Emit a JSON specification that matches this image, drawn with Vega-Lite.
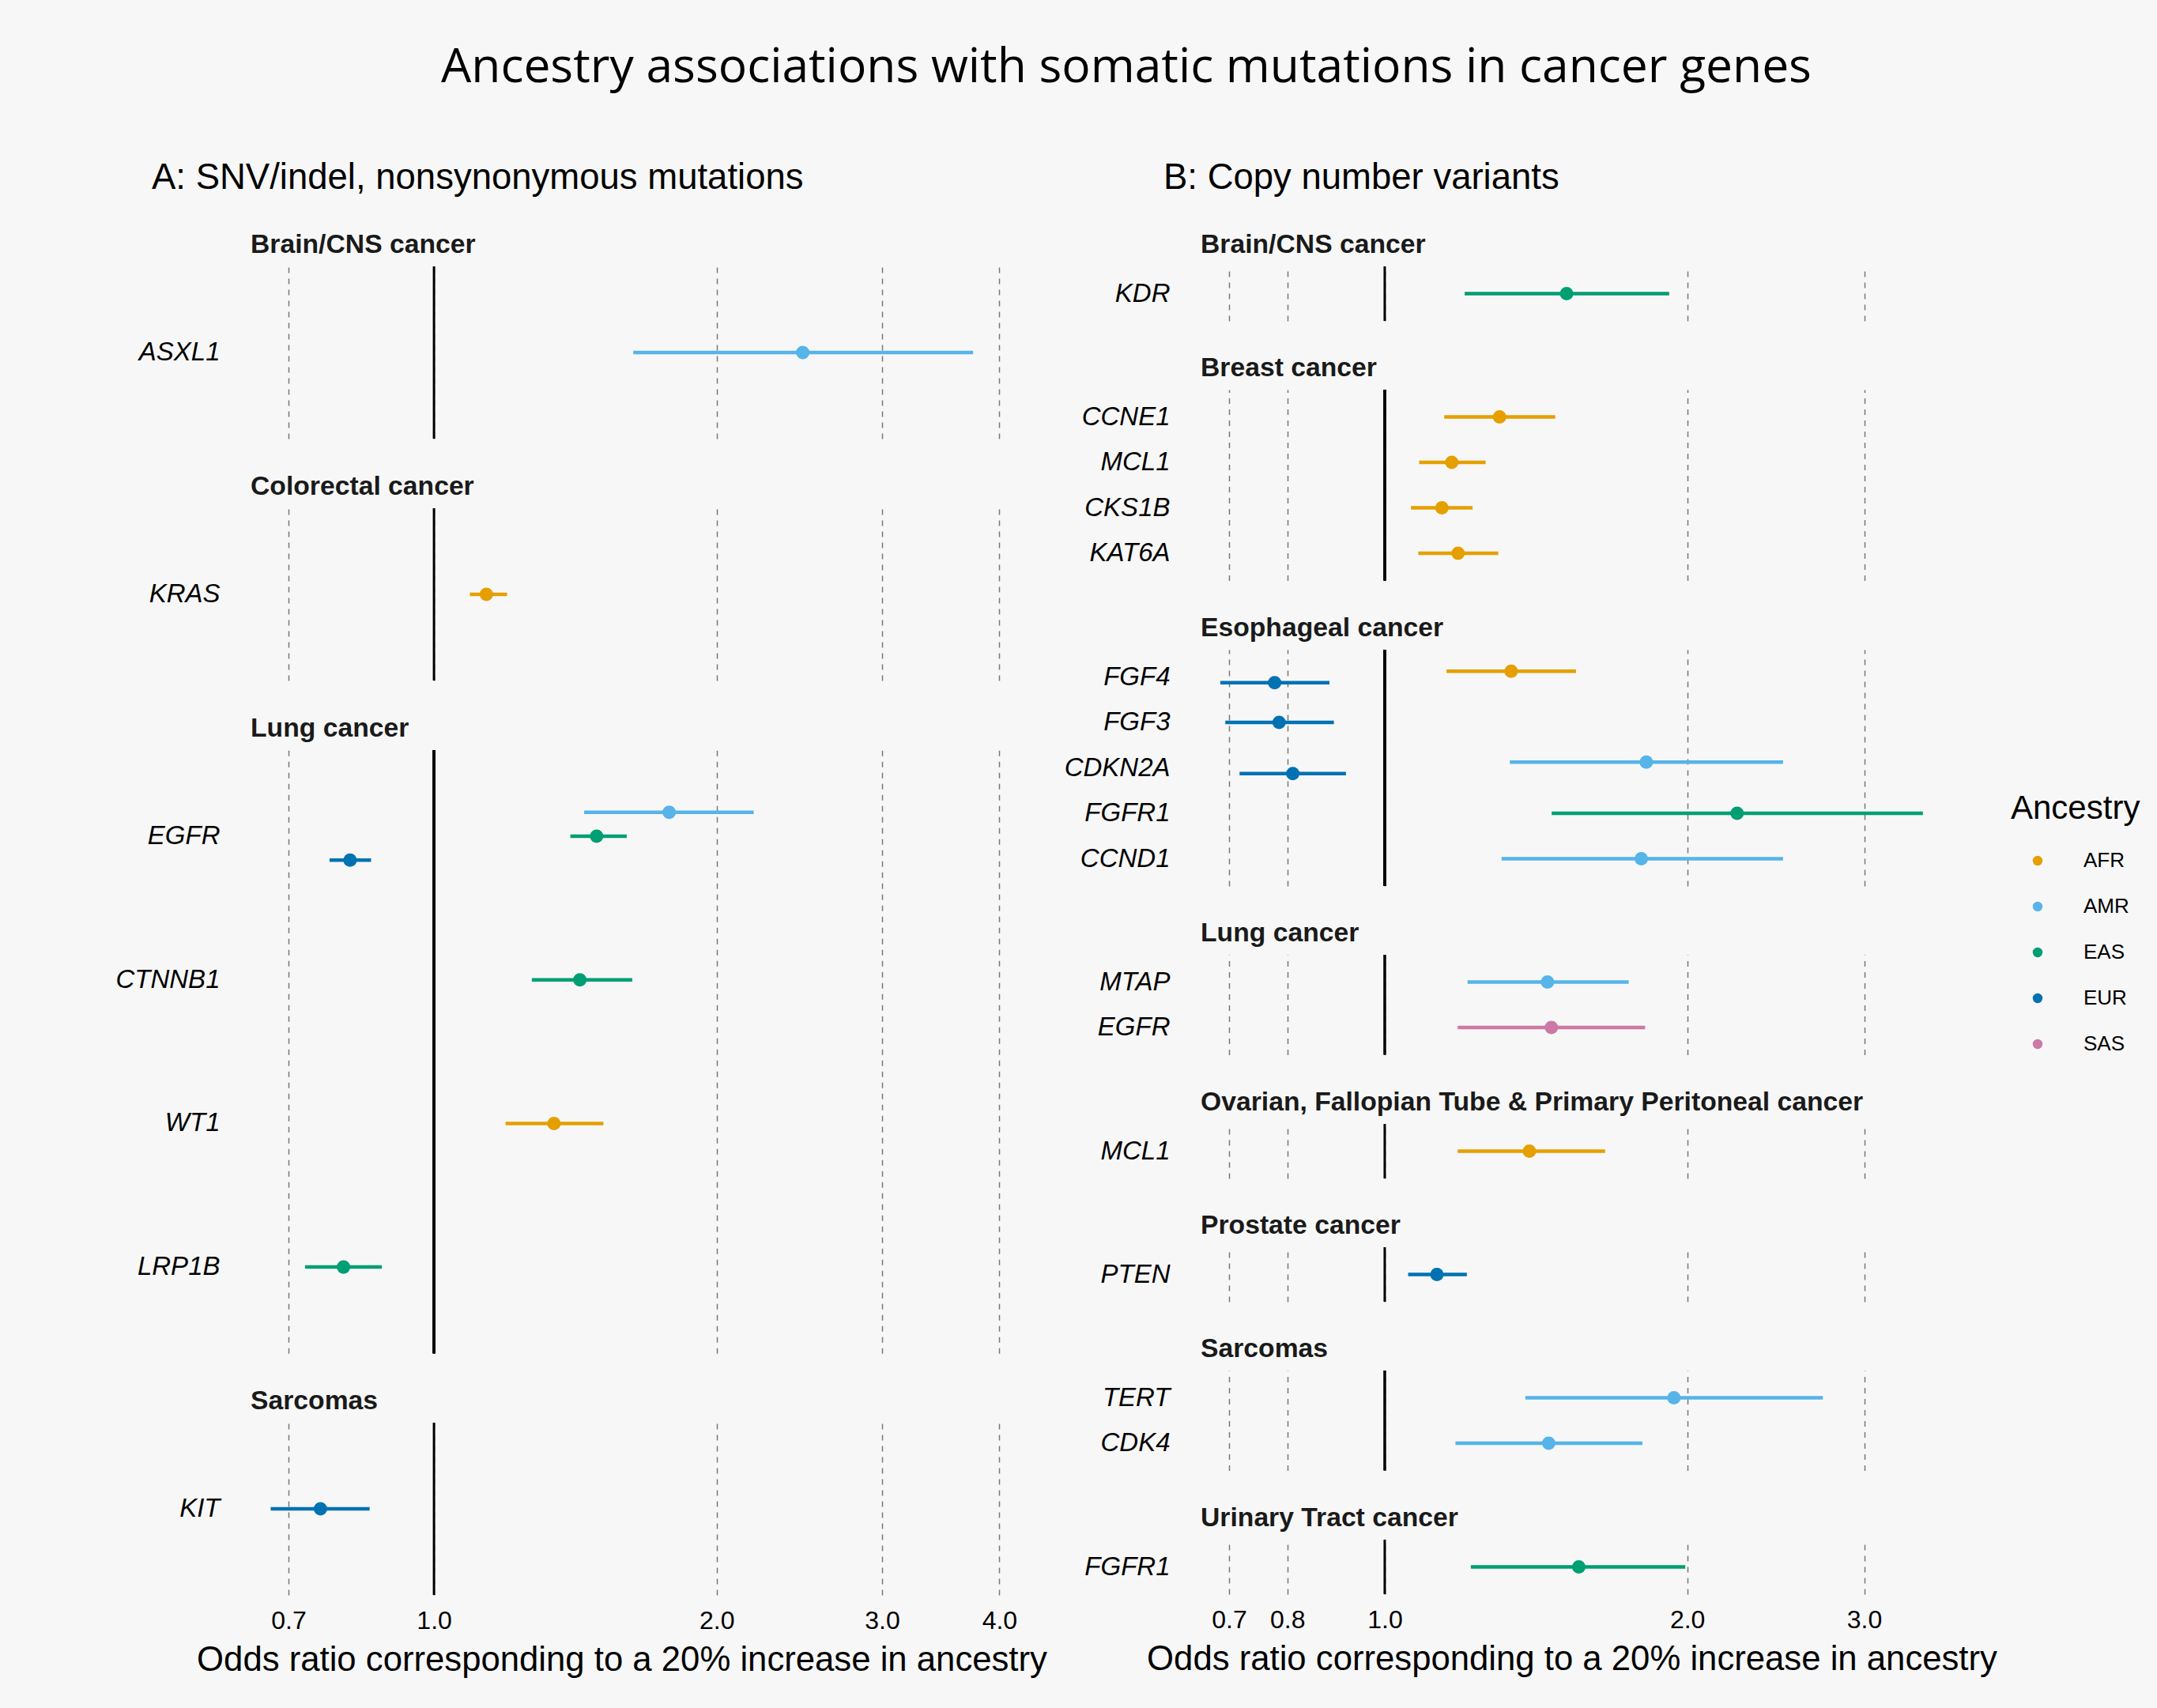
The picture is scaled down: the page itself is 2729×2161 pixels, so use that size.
{
  "$schema": "https://vega.github.io/schema/vega-lite/v6.json",
  "background": "#f7f7f7",
  "padding": {"left": 145, "top": 55, "right": 23, "bottom": 44},
  "title": {"text": "Ancestry associations with somatic mutations in cancer genes", "font": "Open Sans", "fontSize": 60.5, "fontWeight": "normal", "color": "black", "anchor": "middle", "frame": "bounds", "dx": -2, "offset": 87},
  "data": {"values": [
    {"panel": "A", "cancer": "Brain/CNS cancer", "gene": "ASXL1", "ancestry": "AMR", "or": 2.47, "lower": 1.63, "upper": 3.75},
    {"panel": "A", "cancer": "Colorectal cancer", "gene": "KRAS", "ancestry": "AFR", "or": 1.137, "lower": 1.092, "upper": 1.196},
    {"panel": "A", "cancer": "Lung cancer", "gene": "EGFR", "ancestry": "AMR", "or": 1.78, "lower": 1.445, "upper": 2.19},
    {"panel": "A", "cancer": "Lung cancer", "gene": "EGFR", "ancestry": "EAS", "or": 1.49, "lower": 1.397, "upper": 1.604},
    {"panel": "A", "cancer": "Lung cancer", "gene": "EGFR", "ancestry": "EUR", "or": 0.814, "lower": 0.774, "upper": 0.857},
    {"panel": "A", "cancer": "Lung cancer", "gene": "CTNNB1", "ancestry": "EAS", "or": 1.43, "lower": 1.271, "upper": 1.626},
    {"panel": "A", "cancer": "Lung cancer", "gene": "WT1", "ancestry": "AFR", "or": 1.342, "lower": 1.192, "upper": 1.515},
    {"panel": "A", "cancer": "Lung cancer", "gene": "LRP1B", "ancestry": "EAS", "or": 0.801, "lower": 0.729, "upper": 0.88},
    {"panel": "A", "cancer": "Sarcomas", "gene": "KIT", "ancestry": "EUR", "or": 0.757, "lower": 0.67, "upper": 0.854},
    {"panel": "B", "cancer": "Brain/CNS cancer", "gene": "KDR", "ancestry": "EAS", "or": 1.517, "lower": 1.201, "upper": 1.919},
    {"panel": "B", "cancer": "Breast cancer", "gene": "CCNE1", "ancestry": "AFR", "or": 1.301, "lower": 1.146, "upper": 1.478},
    {"panel": "B", "cancer": "Breast cancer", "gene": "MCL1", "ancestry": "AFR", "or": 1.166, "lower": 1.082, "upper": 1.26},
    {"panel": "B", "cancer": "Breast cancer", "gene": "CKS1B", "ancestry": "AFR", "or": 1.14, "lower": 1.062, "upper": 1.223},
    {"panel": "B", "cancer": "Breast cancer", "gene": "KAT6A", "ancestry": "AFR", "or": 1.183, "lower": 1.08, "upper": 1.297},
    {"panel": "B", "cancer": "Esophageal cancer", "gene": "FGF4", "ancestry": "AFR", "or": 1.336, "lower": 1.152, "upper": 1.55},
    {"panel": "B", "cancer": "Esophageal cancer", "gene": "FGF4", "ancestry": "EUR", "or": 0.777, "lower": 0.686, "upper": 0.881},
    {"panel": "B", "cancer": "Esophageal cancer", "gene": "FGF3", "ancestry": "EUR", "or": 0.785, "lower": 0.694, "upper": 0.89},
    {"panel": "B", "cancer": "Esophageal cancer", "gene": "CDKN2A", "ancestry": "AMR", "or": 1.821, "lower": 1.332, "upper": 2.491},
    {"panel": "B", "cancer": "Esophageal cancer", "gene": "CDKN2A", "ancestry": "EUR", "or": 0.81, "lower": 0.717, "upper": 0.915},
    {"panel": "B", "cancer": "Esophageal cancer", "gene": "FGFR1", "ancestry": "EAS", "or": 2.242, "lower": 1.466, "upper": 3.432},
    {"panel": "B", "cancer": "Esophageal cancer", "gene": "CCND1", "ancestry": "AMR", "or": 1.8, "lower": 1.307, "upper": 2.491},
    {"panel": "B", "cancer": "Lung cancer", "gene": "MTAP", "ancestry": "AMR", "or": 1.452, "lower": 1.209, "upper": 1.749},
    {"panel": "B", "cancer": "Lung cancer", "gene": "EGFR", "ancestry": "SAS", "or": 1.465, "lower": 1.182, "upper": 1.816},
    {"panel": "B", "cancer": "Ovarian, Fallopian Tube & Primary Peritoneal cancer", "gene": "MCL1", "ancestry": "AFR", "or": 1.393, "lower": 1.182, "upper": 1.657},
    {"panel": "B", "cancer": "Prostate cancer", "gene": "PTEN", "ancestry": "EUR", "or": 1.127, "lower": 1.055, "upper": 1.207},
    {"panel": "B", "cancer": "Sarcomas", "gene": "TERT", "ancestry": "AMR", "or": 1.94, "lower": 1.38, "upper": 2.729},
    {"panel": "B", "cancer": "Sarcomas", "gene": "CDK4", "ancestry": "AMR", "or": 1.456, "lower": 1.176, "upper": 1.805},
    {"panel": "B", "cancer": "Urinary Tract cancer", "gene": "FGFR1", "ancestry": "EAS", "or": 1.56, "lower": 1.218, "upper": 1.991}
  ]},
  "transform": [
    {"window": [{"op": "row_number", "as": "rk"}], "groupby": ["panel", "cancer", "gene"], "sort": [{"field": "ancestry", "order": "ascending"}]},
    {"joinaggregate": [{"op": "count", "as": "n"}], "groupby": ["panel", "cancer", "gene"]},
    {"calculate": "(datum.rk - (datum.n + 1) / 2) * 0.5 / datum.n", "as": "dodge"}
  ],
  "spacing": 21,
  "resolve": {"scale": {"x": "independent", "y": "independent", "yOffset": "independent", "color": "shared", "stroke": "shared"}, "legend": {"color": "shared"}},
  "hconcat": [
    {
      "title": {"text": "A: SNV/indel, nonsynonymous mutations", "fontSize": 45.5, "fontWeight": "normal", "color": "black", "dx": -106, "offset": 44},
      "spacing": 87,
      "bounds": "flush",
      "vconcat": [
        {
          "title": "Brain/CNS cancer",
          "transform": [{"filter": "datum.panel === 'A' && datum.cancer === 'Brain/CNS cancer'"}],
          "width": 977, "height": {"step": 181.7},
          "layer": [
            {"mark": {"type": "rule", "color": "black", "strokeWidth": 3}, "encoding": {"x": {"datum": 1, "type": "quantitative", "scale": {"type": "log", "domain": [0.6147, 4.083], "nice": false}, "axis": {"labels": false, "ticks": false, "domain": false, "grid": true, "title": null, "values": [0.7, 1, 2, 3, 4]}}}},
            {"mark": {"type": "rule", "strokeWidth": 4.5}, "encoding": {
              "x": {"field": "lower", "type": "quantitative", "scale": {"type": "log", "domain": [0.6147, 4.083], "nice": false}, "axis": {"labels": false, "ticks": false, "domain": false, "grid": true, "title": null, "values": [0.7, 1, 2, 3, 4]}},
              "x2": {"field": "upper"},
              "y": {"field": "gene", "type": "nominal", "sort": ["ASXL1"], "scale": {"paddingInner": 0, "paddingOuter": 0.1}, "axis": {"title": null}},
              "yOffset": {"field": "dodge", "type": "quantitative", "scale": {"domain": [-0.5, 0.5], "range": [0, 181.7]}},
              "stroke": {"field": "ancestry", "type": "nominal", "scale": {"domain": ["SAS", "EUR", "EAS", "AMR", "AFR"], "range": ["#CC79A7", "#0072B2", "#009E73", "#56B4E9", "#E69F00"]}, "legend": null}}},
            {"mark": {"type": "point", "filled": true, "opacity": 1, "size": 290}, "encoding": {
              "x": {"field": "or", "type": "quantitative", "scale": {"type": "log", "domain": [0.6147, 4.083], "nice": false}, "axis": {"labels": false, "ticks": false, "domain": false, "grid": true, "title": null, "values": [0.7, 1, 2, 3, 4]}},
              "y": {"field": "gene", "type": "nominal", "sort": ["ASXL1"], "scale": {"paddingInner": 0, "paddingOuter": 0.1}, "axis": {"title": null}},
              "yOffset": {"field": "dodge", "type": "quantitative", "scale": {"domain": [-0.5, 0.5], "range": [0, 181.7]}},
              "color": {"field": "ancestry", "type": "nominal", "title": "Ancestry", "scale": {"domain": ["AFR", "AMR", "EAS", "EUR", "SAS"], "range": ["#E69F00", "#56B4E9", "#009E73", "#0072B2", "#CC79A7"]}}}}
          ]
        },
        {
          "title": "Colorectal cancer",
          "transform": [{"filter": "datum.panel === 'A' && datum.cancer === 'Colorectal cancer'"}],
          "width": 977, "height": {"step": 181.7},
          "layer": [
            {"mark": {"type": "rule", "color": "black", "strokeWidth": 3}, "encoding": {"x": {"datum": 1, "type": "quantitative", "scale": {"type": "log", "domain": [0.6147, 4.083], "nice": false}, "axis": {"labels": false, "ticks": false, "domain": false, "grid": true, "title": null, "values": [0.7, 1, 2, 3, 4]}}}},
            {"mark": {"type": "rule", "strokeWidth": 4.5}, "encoding": {
              "x": {"field": "lower", "type": "quantitative", "scale": {"type": "log", "domain": [0.6147, 4.083], "nice": false}, "axis": {"labels": false, "ticks": false, "domain": false, "grid": true, "title": null, "values": [0.7, 1, 2, 3, 4]}},
              "x2": {"field": "upper"},
              "y": {"field": "gene", "type": "nominal", "sort": ["KRAS"], "scale": {"paddingInner": 0, "paddingOuter": 0.1}, "axis": {"title": null}},
              "yOffset": {"field": "dodge", "type": "quantitative", "scale": {"domain": [-0.5, 0.5], "range": [0, 181.7]}},
              "stroke": {"field": "ancestry", "type": "nominal", "scale": {"domain": ["SAS", "EUR", "EAS", "AMR", "AFR"], "range": ["#CC79A7", "#0072B2", "#009E73", "#56B4E9", "#E69F00"]}, "legend": null}}},
            {"mark": {"type": "point", "filled": true, "opacity": 1, "size": 290}, "encoding": {
              "x": {"field": "or", "type": "quantitative", "scale": {"type": "log", "domain": [0.6147, 4.083], "nice": false}, "axis": {"labels": false, "ticks": false, "domain": false, "grid": true, "title": null, "values": [0.7, 1, 2, 3, 4]}},
              "y": {"field": "gene", "type": "nominal", "sort": ["KRAS"], "scale": {"paddingInner": 0, "paddingOuter": 0.1}, "axis": {"title": null}},
              "yOffset": {"field": "dodge", "type": "quantitative", "scale": {"domain": [-0.5, 0.5], "range": [0, 181.7]}},
              "color": {"field": "ancestry", "type": "nominal", "title": "Ancestry", "scale": {"domain": ["AFR", "AMR", "EAS", "EUR", "SAS"], "range": ["#E69F00", "#56B4E9", "#009E73", "#0072B2", "#CC79A7"]}}}}
          ]
        },
        {
          "title": "Lung cancer",
          "transform": [{"filter": "datum.panel === 'A' && datum.cancer === 'Lung cancer'"}],
          "width": 977, "height": {"step": 181.7},
          "layer": [
            {"mark": {"type": "rule", "color": "black", "strokeWidth": 3}, "encoding": {"x": {"datum": 1, "type": "quantitative", "scale": {"type": "log", "domain": [0.6147, 4.083], "nice": false}, "axis": {"labels": false, "ticks": false, "domain": false, "grid": true, "title": null, "values": [0.7, 1, 2, 3, 4]}}}},
            {"mark": {"type": "rule", "strokeWidth": 4.5}, "encoding": {
              "x": {"field": "lower", "type": "quantitative", "scale": {"type": "log", "domain": [0.6147, 4.083], "nice": false}, "axis": {"labels": false, "ticks": false, "domain": false, "grid": true, "title": null, "values": [0.7, 1, 2, 3, 4]}},
              "x2": {"field": "upper"},
              "y": {"field": "gene", "type": "nominal", "sort": ["EGFR", "CTNNB1", "WT1", "LRP1B"], "scale": {"paddingInner": 0, "paddingOuter": 0.1}, "axis": {"title": null}},
              "yOffset": {"field": "dodge", "type": "quantitative", "scale": {"domain": [-0.5, 0.5], "range": [0, 181.7]}},
              "stroke": {"field": "ancestry", "type": "nominal", "scale": {"domain": ["SAS", "EUR", "EAS", "AMR", "AFR"], "range": ["#CC79A7", "#0072B2", "#009E73", "#56B4E9", "#E69F00"]}, "legend": null}}},
            {"mark": {"type": "point", "filled": true, "opacity": 1, "size": 290}, "encoding": {
              "x": {"field": "or", "type": "quantitative", "scale": {"type": "log", "domain": [0.6147, 4.083], "nice": false}, "axis": {"labels": false, "ticks": false, "domain": false, "grid": true, "title": null, "values": [0.7, 1, 2, 3, 4]}},
              "y": {"field": "gene", "type": "nominal", "sort": ["EGFR", "CTNNB1", "WT1", "LRP1B"], "scale": {"paddingInner": 0, "paddingOuter": 0.1}, "axis": {"title": null}},
              "yOffset": {"field": "dodge", "type": "quantitative", "scale": {"domain": [-0.5, 0.5], "range": [0, 181.7]}},
              "color": {"field": "ancestry", "type": "nominal", "title": "Ancestry", "scale": {"domain": ["AFR", "AMR", "EAS", "EUR", "SAS"], "range": ["#E69F00", "#56B4E9", "#009E73", "#0072B2", "#CC79A7"]}}}}
          ]
        },
        {
          "title": "Sarcomas",
          "transform": [{"filter": "datum.panel === 'A' && datum.cancer === 'Sarcomas'"}],
          "width": 977, "height": {"step": 181.7},
          "layer": [
            {"mark": {"type": "rule", "color": "black", "strokeWidth": 3}, "encoding": {"x": {"datum": 1, "type": "quantitative", "scale": {"type": "log", "domain": [0.6147, 4.083], "nice": false}, "axis": {"labels": true, "ticks": false, "tickSize": 0, "domain": false, "grid": true, "values": [0.7, 1, 2, 3, 4], "format": ".1f", "title": "Odds ratio corresponding to a 20% increase in ancestry"}}}},
            {"mark": {"type": "rule", "strokeWidth": 4.5}, "encoding": {
              "x": {"field": "lower", "type": "quantitative", "scale": {"type": "log", "domain": [0.6147, 4.083], "nice": false}, "axis": {"labels": true, "ticks": false, "tickSize": 0, "domain": false, "grid": true, "values": [0.7, 1, 2, 3, 4], "format": ".1f", "title": "Odds ratio corresponding to a 20% increase in ancestry"}},
              "x2": {"field": "upper"},
              "y": {"field": "gene", "type": "nominal", "sort": ["KIT"], "scale": {"paddingInner": 0, "paddingOuter": 0.1}, "axis": {"title": null}},
              "yOffset": {"field": "dodge", "type": "quantitative", "scale": {"domain": [-0.5, 0.5], "range": [0, 181.7]}},
              "stroke": {"field": "ancestry", "type": "nominal", "scale": {"domain": ["SAS", "EUR", "EAS", "AMR", "AFR"], "range": ["#CC79A7", "#0072B2", "#009E73", "#56B4E9", "#E69F00"]}, "legend": null}}},
            {"mark": {"type": "point", "filled": true, "opacity": 1, "size": 290}, "encoding": {
              "x": {"field": "or", "type": "quantitative", "scale": {"type": "log", "domain": [0.6147, 4.083], "nice": false}, "axis": {"labels": true, "ticks": false, "tickSize": 0, "domain": false, "grid": true, "values": [0.7, 1, 2, 3, 4], "format": ".1f", "title": "Odds ratio corresponding to a 20% increase in ancestry"}},
              "y": {"field": "gene", "type": "nominal", "sort": ["KIT"], "scale": {"paddingInner": 0, "paddingOuter": 0.1}, "axis": {"title": null}},
              "yOffset": {"field": "dodge", "type": "quantitative", "scale": {"domain": [-0.5, 0.5], "range": [0, 181.7]}},
              "color": {"field": "ancestry", "type": "nominal", "title": "Ancestry", "scale": {"domain": ["AFR", "AMR", "EAS", "EUR", "SAS"], "range": ["#E69F00", "#56B4E9", "#009E73", "#0072B2", "#CC79A7"]}}}}
          ]
        }
      ]
    },
    {
      "title": {"text": "B: Copy number variants", "fontSize": 45.5, "fontWeight": "normal", "color": "black", "dx": -28, "offset": 44},
      "spacing": 87,
      "bounds": "flush",
      "vconcat": [
        {
          "title": "Brain/CNS cancer",
          "transform": [{"filter": "datum.panel === 'B' && datum.cancer === 'Brain/CNS cancer'"}],
          "width": 977, "height": {"step": 57.5},
          "layer": [
            {"mark": {"type": "rule", "color": "black", "strokeWidth": 3}, "encoding": {"x": {"datum": 1, "type": "quantitative", "scale": {"type": "log", "domain": [0.6336, 3.718], "nice": false}, "axis": {"labels": false, "ticks": false, "domain": false, "grid": true, "title": null, "values": [0.7, 0.8, 1, 2, 3]}}}},
            {"mark": {"type": "rule", "strokeWidth": 4.5}, "encoding": {
              "x": {"field": "lower", "type": "quantitative", "scale": {"type": "log", "domain": [0.6336, 3.718], "nice": false}, "axis": {"labels": false, "ticks": false, "domain": false, "grid": true, "title": null, "values": [0.7, 0.8, 1, 2, 3]}},
              "x2": {"field": "upper"},
              "y": {"field": "gene", "type": "nominal", "sort": ["KDR"], "scale": {"paddingInner": 0, "paddingOuter": 0.1}, "axis": {"title": null}},
              "yOffset": {"field": "dodge", "type": "quantitative", "scale": {"domain": [-0.5, 0.5], "range": [0, 57.5]}},
              "stroke": {"field": "ancestry", "type": "nominal", "scale": {"domain": ["SAS", "EUR", "EAS", "AMR", "AFR"], "range": ["#CC79A7", "#0072B2", "#009E73", "#56B4E9", "#E69F00"]}, "legend": null}}},
            {"mark": {"type": "point", "filled": true, "opacity": 1, "size": 290}, "encoding": {
              "x": {"field": "or", "type": "quantitative", "scale": {"type": "log", "domain": [0.6336, 3.718], "nice": false}, "axis": {"labels": false, "ticks": false, "domain": false, "grid": true, "title": null, "values": [0.7, 0.8, 1, 2, 3]}},
              "y": {"field": "gene", "type": "nominal", "sort": ["KDR"], "scale": {"paddingInner": 0, "paddingOuter": 0.1}, "axis": {"title": null}},
              "yOffset": {"field": "dodge", "type": "quantitative", "scale": {"domain": [-0.5, 0.5], "range": [0, 57.5]}},
              "color": {"field": "ancestry", "type": "nominal", "title": "Ancestry", "scale": {"domain": ["AFR", "AMR", "EAS", "EUR", "SAS"], "range": ["#E69F00", "#56B4E9", "#009E73", "#0072B2", "#CC79A7"]}}}}
          ]
        },
        {
          "title": "Breast cancer",
          "transform": [{"filter": "datum.panel === 'B' && datum.cancer === 'Breast cancer'"}],
          "width": 977, "height": {"step": 57.5},
          "layer": [
            {"mark": {"type": "rule", "color": "black", "strokeWidth": 3}, "encoding": {"x": {"datum": 1, "type": "quantitative", "scale": {"type": "log", "domain": [0.6336, 3.718], "nice": false}, "axis": {"labels": false, "ticks": false, "domain": false, "grid": true, "title": null, "values": [0.7, 0.8, 1, 2, 3]}}}},
            {"mark": {"type": "rule", "strokeWidth": 4.5}, "encoding": {
              "x": {"field": "lower", "type": "quantitative", "scale": {"type": "log", "domain": [0.6336, 3.718], "nice": false}, "axis": {"labels": false, "ticks": false, "domain": false, "grid": true, "title": null, "values": [0.7, 0.8, 1, 2, 3]}},
              "x2": {"field": "upper"},
              "y": {"field": "gene", "type": "nominal", "sort": ["CCNE1", "MCL1", "CKS1B", "KAT6A"], "scale": {"paddingInner": 0, "paddingOuter": 0.1}, "axis": {"title": null}},
              "yOffset": {"field": "dodge", "type": "quantitative", "scale": {"domain": [-0.5, 0.5], "range": [0, 57.5]}},
              "stroke": {"field": "ancestry", "type": "nominal", "scale": {"domain": ["SAS", "EUR", "EAS", "AMR", "AFR"], "range": ["#CC79A7", "#0072B2", "#009E73", "#56B4E9", "#E69F00"]}, "legend": null}}},
            {"mark": {"type": "point", "filled": true, "opacity": 1, "size": 290}, "encoding": {
              "x": {"field": "or", "type": "quantitative", "scale": {"type": "log", "domain": [0.6336, 3.718], "nice": false}, "axis": {"labels": false, "ticks": false, "domain": false, "grid": true, "title": null, "values": [0.7, 0.8, 1, 2, 3]}},
              "y": {"field": "gene", "type": "nominal", "sort": ["CCNE1", "MCL1", "CKS1B", "KAT6A"], "scale": {"paddingInner": 0, "paddingOuter": 0.1}, "axis": {"title": null}},
              "yOffset": {"field": "dodge", "type": "quantitative", "scale": {"domain": [-0.5, 0.5], "range": [0, 57.5]}},
              "color": {"field": "ancestry", "type": "nominal", "title": "Ancestry", "scale": {"domain": ["AFR", "AMR", "EAS", "EUR", "SAS"], "range": ["#E69F00", "#56B4E9", "#009E73", "#0072B2", "#CC79A7"]}}}}
          ]
        },
        {
          "title": "Esophageal cancer",
          "transform": [{"filter": "datum.panel === 'B' && datum.cancer === 'Esophageal cancer'"}],
          "width": 977, "height": {"step": 57.5},
          "layer": [
            {"mark": {"type": "rule", "color": "black", "strokeWidth": 3}, "encoding": {"x": {"datum": 1, "type": "quantitative", "scale": {"type": "log", "domain": [0.6336, 3.718], "nice": false}, "axis": {"labels": false, "ticks": false, "domain": false, "grid": true, "title": null, "values": [0.7, 0.8, 1, 2, 3]}}}},
            {"mark": {"type": "rule", "strokeWidth": 4.5}, "encoding": {
              "x": {"field": "lower", "type": "quantitative", "scale": {"type": "log", "domain": [0.6336, 3.718], "nice": false}, "axis": {"labels": false, "ticks": false, "domain": false, "grid": true, "title": null, "values": [0.7, 0.8, 1, 2, 3]}},
              "x2": {"field": "upper"},
              "y": {"field": "gene", "type": "nominal", "sort": ["FGF4", "FGF3", "CDKN2A", "FGFR1", "CCND1"], "scale": {"paddingInner": 0, "paddingOuter": 0.1}, "axis": {"title": null}},
              "yOffset": {"field": "dodge", "type": "quantitative", "scale": {"domain": [-0.5, 0.5], "range": [0, 57.5]}},
              "stroke": {"field": "ancestry", "type": "nominal", "scale": {"domain": ["SAS", "EUR", "EAS", "AMR", "AFR"], "range": ["#CC79A7", "#0072B2", "#009E73", "#56B4E9", "#E69F00"]}, "legend": null}}},
            {"mark": {"type": "point", "filled": true, "opacity": 1, "size": 290}, "encoding": {
              "x": {"field": "or", "type": "quantitative", "scale": {"type": "log", "domain": [0.6336, 3.718], "nice": false}, "axis": {"labels": false, "ticks": false, "domain": false, "grid": true, "title": null, "values": [0.7, 0.8, 1, 2, 3]}},
              "y": {"field": "gene", "type": "nominal", "sort": ["FGF4", "FGF3", "CDKN2A", "FGFR1", "CCND1"], "scale": {"paddingInner": 0, "paddingOuter": 0.1}, "axis": {"title": null}},
              "yOffset": {"field": "dodge", "type": "quantitative", "scale": {"domain": [-0.5, 0.5], "range": [0, 57.5]}},
              "color": {"field": "ancestry", "type": "nominal", "title": "Ancestry", "scale": {"domain": ["AFR", "AMR", "EAS", "EUR", "SAS"], "range": ["#E69F00", "#56B4E9", "#009E73", "#0072B2", "#CC79A7"]}}}}
          ]
        },
        {
          "title": "Lung cancer",
          "transform": [{"filter": "datum.panel === 'B' && datum.cancer === 'Lung cancer'"}],
          "width": 977, "height": {"step": 57.5},
          "layer": [
            {"mark": {"type": "rule", "color": "black", "strokeWidth": 3}, "encoding": {"x": {"datum": 1, "type": "quantitative", "scale": {"type": "log", "domain": [0.6336, 3.718], "nice": false}, "axis": {"labels": false, "ticks": false, "domain": false, "grid": true, "title": null, "values": [0.7, 0.8, 1, 2, 3]}}}},
            {"mark": {"type": "rule", "strokeWidth": 4.5}, "encoding": {
              "x": {"field": "lower", "type": "quantitative", "scale": {"type": "log", "domain": [0.6336, 3.718], "nice": false}, "axis": {"labels": false, "ticks": false, "domain": false, "grid": true, "title": null, "values": [0.7, 0.8, 1, 2, 3]}},
              "x2": {"field": "upper"},
              "y": {"field": "gene", "type": "nominal", "sort": ["MTAP", "EGFR"], "scale": {"paddingInner": 0, "paddingOuter": 0.1}, "axis": {"title": null}},
              "yOffset": {"field": "dodge", "type": "quantitative", "scale": {"domain": [-0.5, 0.5], "range": [0, 57.5]}},
              "stroke": {"field": "ancestry", "type": "nominal", "scale": {"domain": ["SAS", "EUR", "EAS", "AMR", "AFR"], "range": ["#CC79A7", "#0072B2", "#009E73", "#56B4E9", "#E69F00"]}, "legend": null}}},
            {"mark": {"type": "point", "filled": true, "opacity": 1, "size": 290}, "encoding": {
              "x": {"field": "or", "type": "quantitative", "scale": {"type": "log", "domain": [0.6336, 3.718], "nice": false}, "axis": {"labels": false, "ticks": false, "domain": false, "grid": true, "title": null, "values": [0.7, 0.8, 1, 2, 3]}},
              "y": {"field": "gene", "type": "nominal", "sort": ["MTAP", "EGFR"], "scale": {"paddingInner": 0, "paddingOuter": 0.1}, "axis": {"title": null}},
              "yOffset": {"field": "dodge", "type": "quantitative", "scale": {"domain": [-0.5, 0.5], "range": [0, 57.5]}},
              "color": {"field": "ancestry", "type": "nominal", "title": "Ancestry", "scale": {"domain": ["AFR", "AMR", "EAS", "EUR", "SAS"], "range": ["#E69F00", "#56B4E9", "#009E73", "#0072B2", "#CC79A7"]}}}}
          ]
        },
        {
          "title": "Ovarian, Fallopian Tube & Primary Peritoneal cancer",
          "transform": [{"filter": "datum.panel === 'B' && datum.cancer === 'Ovarian, Fallopian Tube & Primary Peritoneal cancer'"}],
          "width": 977, "height": {"step": 57.5},
          "layer": [
            {"mark": {"type": "rule", "color": "black", "strokeWidth": 3}, "encoding": {"x": {"datum": 1, "type": "quantitative", "scale": {"type": "log", "domain": [0.6336, 3.718], "nice": false}, "axis": {"labels": false, "ticks": false, "domain": false, "grid": true, "title": null, "values": [0.7, 0.8, 1, 2, 3]}}}},
            {"mark": {"type": "rule", "strokeWidth": 4.5}, "encoding": {
              "x": {"field": "lower", "type": "quantitative", "scale": {"type": "log", "domain": [0.6336, 3.718], "nice": false}, "axis": {"labels": false, "ticks": false, "domain": false, "grid": true, "title": null, "values": [0.7, 0.8, 1, 2, 3]}},
              "x2": {"field": "upper"},
              "y": {"field": "gene", "type": "nominal", "sort": ["MCL1"], "scale": {"paddingInner": 0, "paddingOuter": 0.1}, "axis": {"title": null}},
              "yOffset": {"field": "dodge", "type": "quantitative", "scale": {"domain": [-0.5, 0.5], "range": [0, 57.5]}},
              "stroke": {"field": "ancestry", "type": "nominal", "scale": {"domain": ["SAS", "EUR", "EAS", "AMR", "AFR"], "range": ["#CC79A7", "#0072B2", "#009E73", "#56B4E9", "#E69F00"]}, "legend": null}}},
            {"mark": {"type": "point", "filled": true, "opacity": 1, "size": 290}, "encoding": {
              "x": {"field": "or", "type": "quantitative", "scale": {"type": "log", "domain": [0.6336, 3.718], "nice": false}, "axis": {"labels": false, "ticks": false, "domain": false, "grid": true, "title": null, "values": [0.7, 0.8, 1, 2, 3]}},
              "y": {"field": "gene", "type": "nominal", "sort": ["MCL1"], "scale": {"paddingInner": 0, "paddingOuter": 0.1}, "axis": {"title": null}},
              "yOffset": {"field": "dodge", "type": "quantitative", "scale": {"domain": [-0.5, 0.5], "range": [0, 57.5]}},
              "color": {"field": "ancestry", "type": "nominal", "title": "Ancestry", "scale": {"domain": ["AFR", "AMR", "EAS", "EUR", "SAS"], "range": ["#E69F00", "#56B4E9", "#009E73", "#0072B2", "#CC79A7"]}}}}
          ]
        },
        {
          "title": "Prostate cancer",
          "transform": [{"filter": "datum.panel === 'B' && datum.cancer === 'Prostate cancer'"}],
          "width": 977, "height": {"step": 57.5},
          "layer": [
            {"mark": {"type": "rule", "color": "black", "strokeWidth": 3}, "encoding": {"x": {"datum": 1, "type": "quantitative", "scale": {"type": "log", "domain": [0.6336, 3.718], "nice": false}, "axis": {"labels": false, "ticks": false, "domain": false, "grid": true, "title": null, "values": [0.7, 0.8, 1, 2, 3]}}}},
            {"mark": {"type": "rule", "strokeWidth": 4.5}, "encoding": {
              "x": {"field": "lower", "type": "quantitative", "scale": {"type": "log", "domain": [0.6336, 3.718], "nice": false}, "axis": {"labels": false, "ticks": false, "domain": false, "grid": true, "title": null, "values": [0.7, 0.8, 1, 2, 3]}},
              "x2": {"field": "upper"},
              "y": {"field": "gene", "type": "nominal", "sort": ["PTEN"], "scale": {"paddingInner": 0, "paddingOuter": 0.1}, "axis": {"title": null}},
              "yOffset": {"field": "dodge", "type": "quantitative", "scale": {"domain": [-0.5, 0.5], "range": [0, 57.5]}},
              "stroke": {"field": "ancestry", "type": "nominal", "scale": {"domain": ["SAS", "EUR", "EAS", "AMR", "AFR"], "range": ["#CC79A7", "#0072B2", "#009E73", "#56B4E9", "#E69F00"]}, "legend": null}}},
            {"mark": {"type": "point", "filled": true, "opacity": 1, "size": 290}, "encoding": {
              "x": {"field": "or", "type": "quantitative", "scale": {"type": "log", "domain": [0.6336, 3.718], "nice": false}, "axis": {"labels": false, "ticks": false, "domain": false, "grid": true, "title": null, "values": [0.7, 0.8, 1, 2, 3]}},
              "y": {"field": "gene", "type": "nominal", "sort": ["PTEN"], "scale": {"paddingInner": 0, "paddingOuter": 0.1}, "axis": {"title": null}},
              "yOffset": {"field": "dodge", "type": "quantitative", "scale": {"domain": [-0.5, 0.5], "range": [0, 57.5]}},
              "color": {"field": "ancestry", "type": "nominal", "title": "Ancestry", "scale": {"domain": ["AFR", "AMR", "EAS", "EUR", "SAS"], "range": ["#E69F00", "#56B4E9", "#009E73", "#0072B2", "#CC79A7"]}}}}
          ]
        },
        {
          "title": "Sarcomas",
          "transform": [{"filter": "datum.panel === 'B' && datum.cancer === 'Sarcomas'"}],
          "width": 977, "height": {"step": 57.5},
          "layer": [
            {"mark": {"type": "rule", "color": "black", "strokeWidth": 3}, "encoding": {"x": {"datum": 1, "type": "quantitative", "scale": {"type": "log", "domain": [0.6336, 3.718], "nice": false}, "axis": {"labels": false, "ticks": false, "domain": false, "grid": true, "title": null, "values": [0.7, 0.8, 1, 2, 3]}}}},
            {"mark": {"type": "rule", "strokeWidth": 4.5}, "encoding": {
              "x": {"field": "lower", "type": "quantitative", "scale": {"type": "log", "domain": [0.6336, 3.718], "nice": false}, "axis": {"labels": false, "ticks": false, "domain": false, "grid": true, "title": null, "values": [0.7, 0.8, 1, 2, 3]}},
              "x2": {"field": "upper"},
              "y": {"field": "gene", "type": "nominal", "sort": ["TERT", "CDK4"], "scale": {"paddingInner": 0, "paddingOuter": 0.1}, "axis": {"title": null}},
              "yOffset": {"field": "dodge", "type": "quantitative", "scale": {"domain": [-0.5, 0.5], "range": [0, 57.5]}},
              "stroke": {"field": "ancestry", "type": "nominal", "scale": {"domain": ["SAS", "EUR", "EAS", "AMR", "AFR"], "range": ["#CC79A7", "#0072B2", "#009E73", "#56B4E9", "#E69F00"]}, "legend": null}}},
            {"mark": {"type": "point", "filled": true, "opacity": 1, "size": 290}, "encoding": {
              "x": {"field": "or", "type": "quantitative", "scale": {"type": "log", "domain": [0.6336, 3.718], "nice": false}, "axis": {"labels": false, "ticks": false, "domain": false, "grid": true, "title": null, "values": [0.7, 0.8, 1, 2, 3]}},
              "y": {"field": "gene", "type": "nominal", "sort": ["TERT", "CDK4"], "scale": {"paddingInner": 0, "paddingOuter": 0.1}, "axis": {"title": null}},
              "yOffset": {"field": "dodge", "type": "quantitative", "scale": {"domain": [-0.5, 0.5], "range": [0, 57.5]}},
              "color": {"field": "ancestry", "type": "nominal", "title": "Ancestry", "scale": {"domain": ["AFR", "AMR", "EAS", "EUR", "SAS"], "range": ["#E69F00", "#56B4E9", "#009E73", "#0072B2", "#CC79A7"]}}}}
          ]
        },
        {
          "title": "Urinary Tract cancer",
          "transform": [{"filter": "datum.panel === 'B' && datum.cancer === 'Urinary Tract cancer'"}],
          "width": 977, "height": {"step": 57.5},
          "layer": [
            {"mark": {"type": "rule", "color": "black", "strokeWidth": 3}, "encoding": {"x": {"datum": 1, "type": "quantitative", "scale": {"type": "log", "domain": [0.6336, 3.718], "nice": false}, "axis": {"labels": true, "ticks": false, "tickSize": 0, "domain": false, "grid": true, "values": [0.7, 0.8, 1, 2, 3], "format": ".1f", "title": "Odds ratio corresponding to a 20% increase in ancestry"}}}},
            {"mark": {"type": "rule", "strokeWidth": 4.5}, "encoding": {
              "x": {"field": "lower", "type": "quantitative", "scale": {"type": "log", "domain": [0.6336, 3.718], "nice": false}, "axis": {"labels": true, "ticks": false, "tickSize": 0, "domain": false, "grid": true, "values": [0.7, 0.8, 1, 2, 3], "format": ".1f", "title": "Odds ratio corresponding to a 20% increase in ancestry"}},
              "x2": {"field": "upper"},
              "y": {"field": "gene", "type": "nominal", "sort": ["FGFR1"], "scale": {"paddingInner": 0, "paddingOuter": 0.1}, "axis": {"title": null}},
              "yOffset": {"field": "dodge", "type": "quantitative", "scale": {"domain": [-0.5, 0.5], "range": [0, 57.5]}},
              "stroke": {"field": "ancestry", "type": "nominal", "scale": {"domain": ["SAS", "EUR", "EAS", "AMR", "AFR"], "range": ["#CC79A7", "#0072B2", "#009E73", "#56B4E9", "#E69F00"]}, "legend": null}}},
            {"mark": {"type": "point", "filled": true, "opacity": 1, "size": 290}, "encoding": {
              "x": {"field": "or", "type": "quantitative", "scale": {"type": "log", "domain": [0.6336, 3.718], "nice": false}, "axis": {"labels": true, "ticks": false, "tickSize": 0, "domain": false, "grid": true, "values": [0.7, 0.8, 1, 2, 3], "format": ".1f", "title": "Odds ratio corresponding to a 20% increase in ancestry"}},
              "y": {"field": "gene", "type": "nominal", "sort": ["FGFR1"], "scale": {"paddingInner": 0, "paddingOuter": 0.1}, "axis": {"title": null}},
              "yOffset": {"field": "dodge", "type": "quantitative", "scale": {"domain": [-0.5, 0.5], "range": [0, 57.5]}},
              "color": {"field": "ancestry", "type": "nominal", "title": "Ancestry", "scale": {"domain": ["AFR", "AMR", "EAS", "EUR", "SAS"], "range": ["#E69F00", "#56B4E9", "#009E73", "#0072B2", "#CC79A7"]}}}}
          ]
        }
      ]
    }
  ],
  "config": {
    "font": "Liberation Sans",
    "view": {"stroke": null},
    "title": {"anchor": "start", "frame": "group", "font": "Liberation Sans", "fontSize": 33.7, "fontWeight": "bold", "color": "#1a1a1a", "dx": 19, "offset": 9, "baseline": "alphabetic"},
    "axis": {"gridColor": "#777777", "gridDash": [7, 7], "gridWidth": 1.5, "labelFont": "Liberation Sans", "titleFont": "Liberation Sans"},
    "axisX": {"labelFontSize": 32, "labelColor": "black", "labelPadding": 17, "labelOverlap": false, "labelFlush": false, "labelBound": false, "titleFontSize": 43.7, "titleFontWeight": "normal", "titleColor": "black", "titlePadding": 12},
    "axisY": {"ticks": false, "domain": false, "grid": false, "labelFontSize": 33, "labelFontStyle": "italic", "labelColor": "black", "labelPadding": 20, "labelLimit": 0},
    "legend": {"orient": "none", "legendX": 2246, "legendY": 666, "padding": 0, "titleFont": "Liberation Sans", "titleFontSize": 42, "titleFontWeight": "normal", "titleColor": "black", "titlePadding": 31, "labelFont": "Liberation Sans", "labelFontSize": 26, "labelColor": "black", "symbolType": "circle", "symbolSize": 154, "symbolOpacity": 1, "symbolStrokeWidth": 0, "symbolOffset": 21, "labelOffset": 45, "rowPadding": 32}
  }
}
